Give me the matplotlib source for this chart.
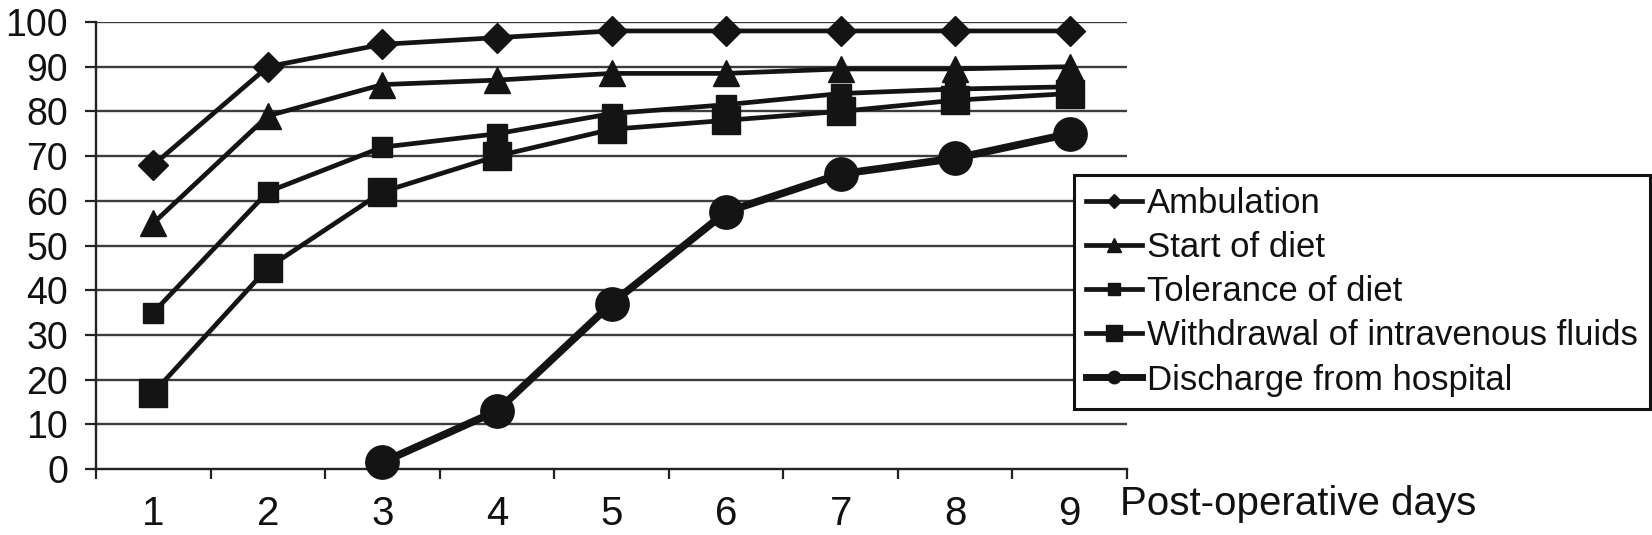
import matplotlib
matplotlib.use("Agg")
import matplotlib.pyplot as plt
from matplotlib.lines import Line2D

plt.rcParams['font.family'] = ['Liberation Sans', 'DejaVu Sans']

# ---------------- data ----------------
days = [1, 2, 3, 4, 5, 6, 7, 8, 9]
day_labels = ["1", "2", "3", "4", "5", "6", "7", "8", "9"]
ambulation = [68, 90, 95, 96.5, 98, 98, 98, 98, 98]
start_of_diet = [55, 79, 86, 87, 88.5, 88.5, 89.5, 89.5, 90]
tolerance_of_diet = [35, 62, 72, 75, 79.5, 81.5, 84, 85, 85.5]
withdrawal_iv = [17, 45, 62, 70, 76, 78, 80, 82.5, 84]
discharge_days = [3, 4, 5, 6, 7, 8, 9]
discharge = [1.5, 13, 37, 57.5, 66, 69.5, 75]
y_ticks = [0, 10, 20, 30, 40, 50, 60, 70, 80, 90, 100]
series_labels = ["Ambulation", "Start of diet", "Tolerance of diet",
                 "Withdrawal of intravenous fluids", "Discharge from hospital"]
x_title = "Post-operative days"

W, H = 1652, 535
fig = plt.figure(figsize=(W / 100, H / 100), dpi=100)
ax = fig.add_axes([96 / W, 1 - 469 / H, (1127 - 96) / W, (469 - 22) / H])

c = '#141414'
ax.plot(days, ambulation, color=c, lw=3.4, marker='D', ms=15, mew=1, clip_on=False, zorder=5)
ax.plot(days, start_of_diet, color=c, lw=3.4, marker='^', ms=19, mew=1, clip_on=False, zorder=5)
ax.plot(days, tolerance_of_diet, color=c, lw=3.4, marker='s', ms=14.5, mew=1, clip_on=False, zorder=5)
ax.plot(days, withdrawal_iv, color=c, lw=3.4, marker='s', ms=20, mew=1, clip_on=False, zorder=5)
ax.plot(discharge_days, discharge, color=c, lw=5.5, marker='o', ms=24, mew=1, clip_on=False, zorder=5)

ax.set_xlim(0.5, 9.5)
ax.set_ylim(0, 100)
ax.set_yticks(y_ticks)
ax.set_xticks(days)
ax.set_xticklabels(day_labels)
ax.set_xticks([d + 0.5 for d in [0] + days], minor=True)
ax.tick_params(axis='x', which='major', length=0, pad=19, labelsize=29, colors='#111111')
ax.tick_params(axis='x', which='minor', length=7.5, width=1.6, direction='out', color='#222222')
ax.tick_params(axis='y', which='major', length=8, width=1.6, direction='out', pad=12,
               labelsize=27, color='#222222', labelcolor='#111111')

for y in y_ticks[1:]:
    ax.axhline(y, color='#3c3c3c', lw=1.7, zorder=1)

for s in ['top', 'right']:
    ax.spines[s].set_visible(False)
for s in ['left', 'bottom']:
    ax.spines[s].set_linewidth(1.7)
    ax.spines[s].set_color('#222222')

fig.text(1120 / W, 1 - 515 / H, x_title, fontsize=29, ha='left', va='baseline', color='#111111')

handles = [
    Line2D([], [], color=c, lw=3.4, marker='D', ms=7),
    Line2D([], [], color=c, lw=3.4, marker='^', ms=10),
    Line2D([], [], color=c, lw=3.4, marker='s', ms=8),
    Line2D([], [], color=c, lw=3.4, marker='s', ms=11),
    Line2D([], [], color=c, lw=5, marker='o', ms=9),
]
leg = fig.legend(handles, series_labels, loc='upper left',
                 bbox_to_anchor=(1074 / W, 1 - 175 / H), borderaxespad=0,
                 frameon=True, fancybox=False, edgecolor='#111111', framealpha=1,
                 fontsize=25, handlelength=1.6, handletextpad=0.15,
                 labelspacing=0.32, borderpad=0.35, numpoints=1)
leg.get_frame().set_linewidth(2.2)
for t in leg.get_texts():
    t.set_color('#111111')

fig.savefig("out.png", dpi=100, facecolor='white')
